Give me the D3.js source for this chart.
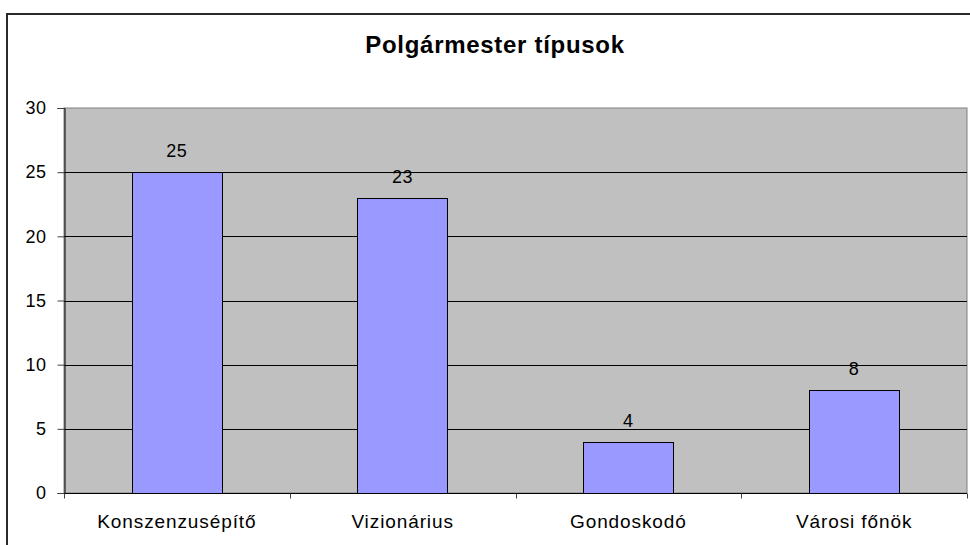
<!DOCTYPE html>
<meta charset="utf-8">
<script src="https://d3js.org/d3.v7.min.js"></script>
<style>
body { margin: 0; background: #fff; }
text { font-family: "Liberation Sans", Arial, sans-serif; fill: #000; }
</style>
<div id="chart"></div>
<script>
// data
const categories = ['Konszenzusépítő', 'Vizionárius', 'Gondoskodó', 'Városi főnök'];
const values = [25, 23, 4, 8];
const yTicks = [0, 5, 10, 15, 20, 25, 30];
const title = 'Polgármester típusok';

const width = 970, height = 545;
const plot = {left: 64, top: 108, right: 967, bottom: 493};

const svg = d3.select('#chart').append('svg')
	.attr('width', width)
	.attr('height', height);

// outer frame (runs off the right / bottom edge)
svg.append('rect')
	.attr('x', 7).attr('y', 14)
	.attr('width', 980).attr('height', 560)
	.attr('fill', '#fff')
	.attr('stroke', '#2a2a2a')
	.attr('stroke-width', 2);

svg.append('text')
	.attr('x', 495).attr('y', 53)
	.attr('text-anchor', 'middle')
	.attr('font-size', 24)
	.attr('font-weight', 'bold')
	.style('letter-spacing', '0.7px')
	.text(title);

const x = d3.scaleBand()
	.domain(categories)
	.range([plot.left, plot.right])
	.paddingInner(0.6)
	.paddingOuter(0.3);
const band = (plot.right - plot.left) / categories.length;

const y = d3.scaleLinear()
	.domain([0, 30])
	.range([plot.bottom, plot.top]);

// plot background
svg.append('rect')
	.attr('x', plot.left).attr('y', plot.top)
	.attr('width', plot.right - plot.left)
	.attr('height', plot.bottom - plot.top)
	.attr('fill', '#c0c0c0')
	.attr('stroke', '#808080')
	.attr('stroke-width', 1);

// gridlines
svg.append('g')
	.selectAll('line')
	.data(yTicks.filter(d => d > 0 && d < 30))
	.join('line')
	.attr('x1', plot.left).attr('x2', plot.right)
	.attr('y1', d => Math.round(y(d)) + 0.5)
	.attr('y2', d => Math.round(y(d)) + 0.5)
	.attr('stroke', '#000')
	.attr('stroke-width', 1);

// bars
svg.append('g')
	.selectAll('rect')
	.data(values)
	.join('rect')
	.attr('x', (d, i) => Math.round(x(categories[i])) + 0.5)
	.attr('y', d => Math.round(y(d)) + 0.5)
	.attr('width', Math.round(x.bandwidth()))
	.attr('height', d => Math.round(y(0)) - Math.round(y(d)))
	.attr('fill', '#9999ff')
	.attr('stroke', '#000')
	.attr('stroke-width', 1);

// value labels
svg.append('g')
	.selectAll('text')
	.data(values)
	.join('text')
	.attr('x', (d, i) => x(categories[i]) + x.bandwidth() / 2)
	.attr('y', d => y(d) - 15)
	.attr('text-anchor', 'middle')
	.attr('font-size', 18)
	.style('letter-spacing', '0.5px')
	.text(d => d);

// y axis
const yAxis = svg.append('g')
	.attr('transform', `translate(${plot.left + 0.5},0)`)
	.call(d3.axisLeft(y).tickValues(yTicks).tickSize(7).tickPadding(11));
yAxis.select('.domain').attr('stroke', '#000');
yAxis.selectAll('.tick line').attr('stroke', '#404040');
yAxis.selectAll('text')
	.attr('font-size', 18)
	.attr('font-family', '"Liberation Sans", Arial, sans-serif')
	.style('letter-spacing', '0.5px');

// x axis
const xAxis = svg.append('g')
	.attr('transform', `translate(0,${Math.round(plot.bottom) + 0.5})`);
xAxis.append('line')
	.attr('x1', plot.left).attr('x2', plot.right)
	.attr('stroke', '#000');
xAxis.selectAll('.tk')
	.data(d3.range(categories.length + 1))
	.join('line')
	.attr('class', 'tk')
	.attr('x1', i => Math.round(plot.left + i * band) + 0.5)
	.attr('x2', i => Math.round(plot.left + i * band) + 0.5)
	.attr('y1', 0).attr('y2', 5)
	.attr('stroke', '#404040');
xAxis.selectAll('text')
	.data(categories)
	.join('text')
	.attr('x', d => x(d) + x.bandwidth() / 2)
	.attr('y', 34)
	.attr('text-anchor', 'middle')
	.attr('font-size', 19)
	.style('letter-spacing', '0.9px')
	.text(d => d);
</script>
